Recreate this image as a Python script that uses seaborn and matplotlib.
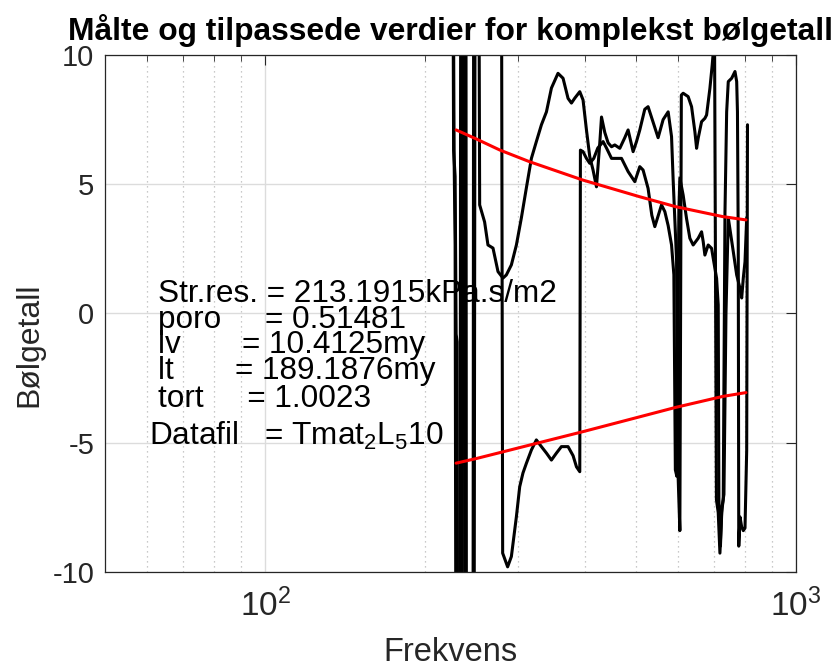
import matplotlib
matplotlib.use("Agg")
import matplotlib.pyplot as plt
import seaborn as sns
from matplotlib.ticker import FixedLocator, NullFormatter

# Measured complex wavenumber, two components (Hz, value)
freq_a = [224.5, 227.0, 228.0, 229.5, 232.5, 234.0, 236.6, 238.2, 246.0, 247.5,
          251.4, 253.6, 259.1, 262.9, 268.7, 274.6, 280.6, 284.7, 291.0, 297.4,
          303.9, 310.5, 317.4, 324.3, 331.5, 338.8, 346.2, 356.2, 364.1, 372.1,
          377.6, 383.1, 391.5, 397.1, 403.0, 408.8, 414.7, 420.9, 427.0, 430.2,
          436.4, 442.7, 449.3, 455.7, 465.7, 475.9, 482.8, 493.4, 500.7, 507.9,
          519.0, 526.5, 538.1, 549.9, 562.0, 574.4, 582.9, 587.0, 591.3, 595.7,
          599.1, 601.7, 604.3, 608.2, 613.0, 626.4, 635.8, 645.0, 649.8, 654.3,
          664.0, 673.6, 678.6, 688.4, 695.3, 698.3, 702.0, 708.1, 713.7, 719.0,
          724.3, 729.4, 734.9, 740.3, 745.5, 756.6, 767.5, 773.2, 775.8, 778.5,
          780.2, 784.4, 790.2, 795.7, 801.6, 807.5, 810.3]
val_a = [30, 6.0, 2.65, -30, -30, 30, 30, -30, -30, 30,
         30, 4.2, 3.54, 2.65, 2.53, 1.62, 1.37, 1.49, 1.88, 2.65,
         3.7, 4.85, 6.0, 6.65, 7.3, 7.8, 8.72, 9.29, 9.1, 8.32,
         8.14, 8.33, 8.58, 8.26, 7.1, 6.07, 5.55, 4.9, 6.6, 7.6,
         7.0, 6.6, 6.45, 6.52, 6.39, 6.8, 7.1, 6.26, 6.65, 7.1,
         7.9, 8.0, 7.4, 6.8, 7.5, 7.8, 6.84, 5.16, 3.62, 2.07,
         -6.0, -7.2, -8.4, 8.45, 8.52, 8.39, 8.0, 7.03, 6.39, 6.78,
         7.42, 7.55, 7.68, 8.71, 9.61, 10.07, 12, -7.2, -7.7, -9.27,
         -7.7, -7.2, 3.9, 7.8, 8.97, 9.1, 9.36, 8.97, 7.8, 2.65,
         -9.0, -7.87, -8.26, -8.4, -8.3, -5.3, 7.3]

freq_b = [224.5, 226.5, 228.0, 229.0, 230.0, 231.0, 234.5, 236.1, 238.7, 239.7,
          247.0, 249.2, 277.8, 280.2, 286.3, 291.0, 297.4, 301.7, 306.0, 310.5,
          317.4, 324.3, 331.5, 338.8, 346.2, 353.8, 361.5, 372.1, 380.3, 385.9,
          391.5, 392.6, 397.1, 403.0, 408.8, 416.0, 423.3, 433.2, 439.6, 449.3,
          459.1, 469.2, 482.8, 497.0, 507.9, 515.2, 526.5, 535.1, 542.1, 558.1,
          566.2, 574.4, 582.9, 588.8, 592.6, 596.5, 601.7, 604.3, 613.0, 622.0,
          631.1, 640.2, 654.3, 664.0, 668.7, 673.6, 683.3, 693.5, 698.3, 708.7,
          713.7, 715.8, 720.6, 725.3, 731.6, 738.1, 745.5, 761.9, 773.2, 784.4,
          790.2, 795.7, 801.6, 807.5]
val_b = [30, 6.3, 5.3, -0.8, -1.1, -30, -30, 30, 30, -30,
         -30, 30, 30, -9.27, -9.8, -9.4, -7.86, -6.7, -6.17, -5.8,
         -5.28, -4.89, -5.15, -5.4, -5.67, -5.4, -5.15, -5.15, -5.5, -5.93,
         -6.12, 6.32, 6.26, 6.0, 5.81, 6.0, 6.4, 6.65, 6.4, 6.0,
         6.0, 6.0, 5.49, 5.1, 5.68, 5.55, 4.84, 3.8, 3.36, 4.2,
         3.94, 3.4, 2.65, 1.5, -6.05, -6.3, 4.0, 5.24, 4.58, 3.68,
         2.91, 2.65, 2.91, 3.16, 2.78, 2.26, 2.65, 2.52, 2.14, 1.36,
         0.33, -7.2, -9.0, -7.5, -7.0, 0.0, 3.7, 2.39, 1.49, 0.97,
         0.6, 1.37, 2.0, 3.7]

# Fitted model (real and imaginary part)
freq_fit = [229, 250, 277, 315, 397, 507, 594, 727, 805]
fit_re = [7.10, 6.75, 6.32, 5.87, 5.16, 4.52, 4.13, 3.75, 3.62]
fit_im = [-5.79, -5.61, -5.38, -5.09, -4.57, -4.00, -3.63, -3.21, -3.06]

param_lines = [
    "Str.res. = 213.1915kPa.s/m2",
    "poro     = 0.51481",
    "lv       = 10.4125my",
    "lt       = 189.1876my",
    "tort     = 1.0023",
]
datafile_line = "Datafil   = Tmat$_2$L$_5$10"

sns.set_theme(style="white")
plt.rcParams["font.family"] = ["Liberation Sans", "DejaVu Sans"]
plt.rcParams["mathtext.fontset"] = "custom"
plt.rcParams["mathtext.rm"] = "Liberation Sans"
plt.rcParams["mathtext.it"] = "Liberation Sans:italic"
plt.rcParams["mathtext.bf"] = "Liberation Sans:bold"
plt.rcParams["axes.unicode_minus"] = False

axc = "#262626"
fig = plt.figure(figsize=(8.37, 6.68), dpi=100)
ax = fig.add_axes([0.1258, 0.1437, 0.8252, 0.774])

sns.lineplot(x=freq_a, y=val_a, ax=ax, color="black", lw=2.2,
             sort=False, estimator=None)
sns.lineplot(x=freq_b, y=val_b, ax=ax, color="black", lw=2.2,
             sort=False, estimator=None)
sns.lineplot(x=freq_fit, y=fit_re, ax=ax, color="#ff0000", lw=2.2,
             sort=False, estimator=None)
sns.lineplot(x=freq_fit, y=fit_im, ax=ax, color="#ff0000", lw=2.2,
             sort=False, estimator=None)

ax.set_xscale("log")
ax.set_xlim(50, 1000)
ax.set_ylim(-10, 10)
ax.xaxis.set_major_locator(FixedLocator([100, 1000]))
ax.xaxis.set_minor_locator(FixedLocator([60, 70, 80, 90, 200, 300, 400, 500,
                                         600, 700, 800, 900]))
ax.xaxis.set_minor_formatter(NullFormatter())
ax.set_yticks([-10, -5, 0, 5, 10])

ax.grid(which="major", color="#dcdcdc", lw=1.0, ls="-")
ax.grid(which="minor", axis="x", color="#b8b8b8", lw=0.9, ls=(0, (1, 3)))
ax.set_axisbelow(True)

ax.tick_params(which="both", direction="in", top=True, right=True,
               colors=axc)
ax.tick_params(which="major", length=7, width=0.8)
ax.tick_params(which="minor", length=4, width=0.6)
ax.tick_params(axis="y", which="major", labelsize=21, pad=8)
ax.tick_params(axis="x", which="major", labelsize=24, pad=12)
for sp in ax.spines.values():
    sp.set_color(axc)
    sp.set_linewidth(0.9)

ax.set_xlabel("Frekvens", fontsize=23.5, color=axc, labelpad=10)
ax.set_ylabel("Bølgetall", fontsize=23, color=axc)
ax.yaxis.set_label_coords(-0.088, 0.44)
ax.set_title("Målte og tilpassede verdier for komplekst bølgetall",
             fontsize=22.9, fontweight="bold", color="black", pad=11)

line_y = [0.5228, 0.4714, 0.4230, 0.3727, 0.3198]
for txt, yy in zip(param_lines, line_y):
    ax.text(0.0767, yy, txt, transform=ax.transAxes, fontsize=22.7,
            color="black", va="baseline", ha="left")
ax.text(0.0637, 0.2456, datafile_line, transform=ax.transAxes, fontsize=22.7,
        color="black", va="baseline", ha="left")

fig.savefig("out.png", dpi=100)
